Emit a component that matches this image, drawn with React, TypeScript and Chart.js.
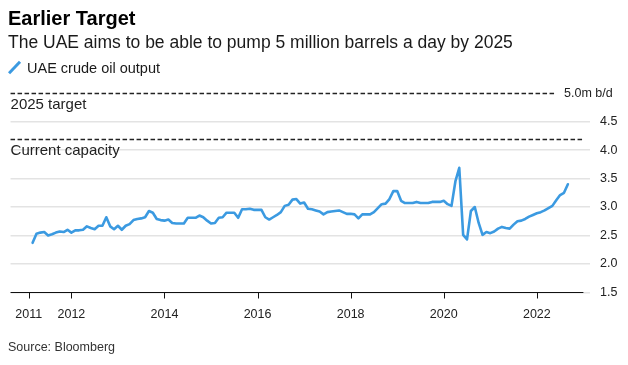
import React, { useEffect, useRef } from "react";
import { Chart, registerables } from "chart.js";

Chart.register(...registerables);

// UAE crude oil output, million barrels a day, monthly (first month given per year)
const out2011 = [2.37, 2.53, 2.55, 2.56, 2.5, 2.52, 2.55, 2.57, 2.56, 2.6, 2.55]; // Feb–Dec
const out2012 = [2.59, 2.59, 2.6, 2.66, 2.63, 2.61, 2.67, 2.67, 2.82, 2.66, 2.61, 2.67];
const out2013 = [2.6, 2.67, 2.7, 2.77, 2.79, 2.8, 2.82, 2.93, 2.9, 2.79, 2.77, 2.76];
const out2014 = [2.78, 2.72, 2.71, 2.71, 2.71, 2.81, 2.81, 2.81, 2.85, 2.82, 2.76, 2.71];
const out2015 = [2.72, 2.81, 2.82, 2.9, 2.9, 2.9, 2.81, 2.96, 2.96, 2.97, 2.95, 2.95];
const out2016 = [2.95, 2.82, 2.78, 2.82, 2.86, 2.91, 3.02, 3.04, 3.13, 3.14, 3.06, 3.08];
const out2017 = [2.97, 2.96, 2.94, 2.92, 2.87, 2.91, 2.92, 2.93, 2.94, 2.91, 2.88, 2.88];
const out2018 = [2.87, 2.8, 2.87, 2.87, 2.87, 2.91, 2.98, 3.05, 3.06, 3.14, 3.28, 3.28];
const out2019 = [3.11, 3.07, 3.07, 3.07, 3.09, 3.07, 3.07, 3.07, 3.09, 3.09, 3.09, 3.11];
const out2020 = [3.05, 3.02, 3.45, 3.69, 2.51, 2.43, 2.93, 3.0, 2.72, 2.51, 2.56, 2.54];
const out2021 = [2.57, 2.62, 2.65, 2.63, 2.62, 2.69, 2.75, 2.76, 2.79, 2.83, 2.86, 2.89];
const out2022 = [2.91, 2.94, 2.98, 3.02, 3.12, 3.21, 3.25, 3.4]; // Jan–Aug

const years = [2011, 2012, 2013, 2014, 2015, 2016, 2017, 2018, 2019, 2020, 2021, 2022];
const firstMonth = [2, 1, 1, 1, 1, 1, 1, 1, 1, 1, 1, 1];
const outputs = [out2011, out2012, out2013, out2014, out2015, out2016, out2017, out2018, out2019, out2020, out2021, out2022];

const xTickLabels = ["2011", "2012", "2014", "2016", "2018", "2020", "2022"];
const xTickValues = [2011 + 1 / 12, 2012, 2014, 2016, 2018, 2020, 2022];
const yTickValues = [1.5, 2, 2.5, 3, 3.5, 4, 4.5];

const targetLevel = 5.0;
const capacityLevel = 4.2;
const targetLabel = "2025 target";
const capacityLabel = "Current capacity";
const unitLabel = "5.0m b/d";

const TITLE = "Earlier Target";
const SUBTITLE = "The UAE aims to be able to pump 5 million barrels a day by 2025";
const LEGEND = "UAE crude oil output";
const SOURCE = "Source: Bloomberg";

const FONT = "'Liberation Sans', Arial, Helvetica, sans-serif";
const BLUE = "#3b9ae1";
const INK = "#222";

const overlayPlugin = {
  id: "overlay",
  beforeDatasetsDraw(chart: any) {
    const { ctx, chartArea, scales } = chart;
    const x = scales.x;
    const y = scales.y;
    ctx.save();
    // dashed reference lines
    ctx.strokeStyle = INK;
    ctx.lineWidth = 1.3;
    ctx.setLineDash([4.5, 2.5]);
    const yT = Math.round(y.getPixelForValue(targetLevel)) + 0.5;
    ctx.beginPath();
    ctx.moveTo(chartArea.left, yT);
    ctx.lineTo(chartArea.right - 35, yT);
    ctx.stroke();
    const yC = Math.round(y.getPixelForValue(capacityLevel)) + 0.5;
    ctx.beginPath();
    ctx.moveTo(chartArea.left, yC);
    ctx.lineTo(x.getPixelForValue(2023), yC);
    ctx.stroke();
    ctx.setLineDash([]);
    ctx.fillStyle = INK;
    ctx.font = `15px ${FONT}`;
    ctx.textBaseline = "alphabetic";
    ctx.textAlign = "left";
    ctx.fillText(targetLabel, chartArea.left, yT + 15);
    ctx.fillText(capacityLabel, chartArea.left, yC + 15.5);
    ctx.font = `12.5px ${FONT}`;
    ctx.textBaseline = "middle";
    ctx.fillText(unitLabel, chartArea.right - 26, yT);
    ctx.restore();
  },
  afterDatasetsDraw(chart: any) {
    const { ctx, chartArea, scales } = chart;
    const x = scales.x;
    const y = scales.y;
    ctx.save();
    ctx.strokeStyle = "#111";
    ctx.lineWidth = 1.2;
    const yA = Math.round(y.getPixelForValue(1.5)) + 0.5;
    ctx.beginPath();
    ctx.moveTo(chartArea.left, yA);
    ctx.lineTo(x.getPixelForValue(2023), yA);
    ctx.stroke();
    ctx.lineWidth = 1;
    xTickValues.forEach((v) => {
      const px = Math.round(x.getPixelForValue(v)) + 0.5;
      ctx.beginPath();
      ctx.moveTo(px, yA);
      ctx.lineTo(px, yA + 6);
      ctx.stroke();
    });
    ctx.restore();
  },
};

export default function App() {
  const ref = useRef<HTMLCanvasElement | null>(null);

  useEffect(() => {
    if (!ref.current) return;
    const points: { x: number; y: number }[] = [];
    outputs.forEach((arr, k) => {
      arr.forEach((v, i) => {
        points.push({ x: years[k] + (firstMonth[k] + i) / 12, y: v });
      });
    });

    const chart = new Chart(ref.current, {
      type: "line",
      data: {
        datasets: [
          {
            label: LEGEND,
            data: points,
            borderColor: BLUE,
            borderWidth: 2.6,
            pointRadius: 0,
            tension: 0,
            borderJoinStyle: "round",
            borderCapStyle: "round",
          },
        ],
      },
      options: {
        responsive: false,
        animation: false,
        devicePixelRatio: 1,
        layout: { padding: { left: 9, top: 93.3, right: 0, bottom: 42.7 } },
        plugins: { legend: { display: false }, tooltip: { enabled: false } },
        scales: {
          x: {
            type: "linear",
            min: 2010.693,
            max: 2023.142,
            grid: { display: false, drawTicks: false },
            border: { display: false },
            afterBuildTicks: (s: any) => {
              s.ticks = xTickValues.map((v) => ({ value: v }));
            },
            afterFit: (s: any) => {
              s.height = 30;
            },
            ticks: {
              autoSkip: false,
              maxRotation: 0,
              padding: 15,
              color: INK,
              font: { family: FONT, size: 12.5 },
              callback: (_v: any, i: number) => xTickLabels[i],
            },
          },
          y: {
            position: "right",
            min: 1.5,
            max: 5,
            afterBuildTicks: (s: any) => {
              s.ticks = yTickValues.map((v) => ({ value: v }));
            },
            afterFit: (s: any) => {
              s.width = 38;
            },
            grid: { color: "#e3e3e3", lineWidth: 1.6, drawTicks: false },
            border: { display: false },
            ticks: {
              padding: 10,
              color: INK,
              font: { family: FONT, size: 12.5 },
              callback: (v: any) => Number(v).toFixed(1),
            },
          },
        },
      },
      plugins: [overlayPlugin],
    } as any);
    return () => chart.destroy();
  }, []);

  const base: React.CSSProperties = {
    position: "absolute",
    left: 8,
    margin: 0,
    lineHeight: 1,
    fontFamily: FONT,
    whiteSpace: "nowrap",
  };

  return (
    <div style={{ position: "fixed", left: 0, top: 0, width: 628, height: 365, background: "#fff", overflow: "hidden" }}>
      <canvas ref={ref} width={628} height={365} style={{ position: "absolute", left: 0, top: 0, width: 628, height: 365 }} />
      <div style={{ ...base, top: 8.1, fontSize: 20, fontWeight: 700, color: "#000" }}>{TITLE}</div>
      <div style={{ ...base, top: 34.2, fontSize: 17.5, color: "#1a1a1a" }}>{SUBTITLE}</div>
      <svg style={{ position: "absolute", left: 8, top: 60 }} width={14} height={16}>
        <line x1={1} y1={13.3} x2={12} y2={1.7} stroke={BLUE} strokeWidth={3} />
      </svg>
      <div style={{ ...base, left: 27, top: 61, fontSize: 14.5, color: "#1a1a1a" }}>{LEGEND}</div>
      <div style={{ ...base, top: 341.4, fontSize: 12.5, color: "#333" }}>{SOURCE}</div>
    </div>
  );
}
